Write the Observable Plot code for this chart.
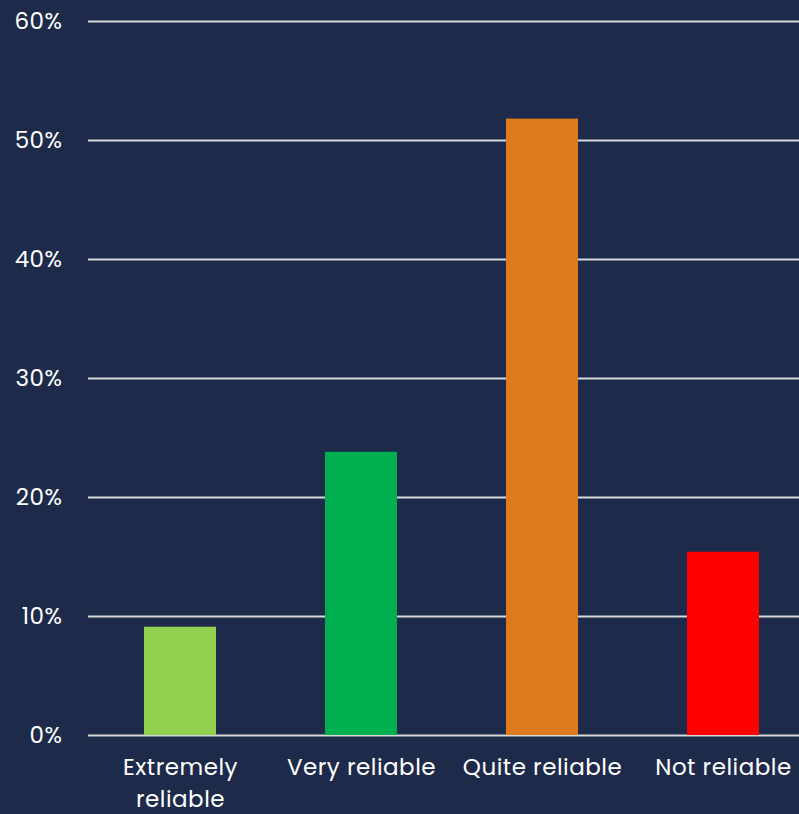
<!DOCTYPE html>
<html>
<head>
<meta charset="utf-8">
<script src="https://cdn.jsdelivr.net/npm/d3@7"></script>
<script src="https://cdn.jsdelivr.net/npm/@observablehq/plot@0.6"></script>
<style>
  html, body { margin: 0; padding: 0; background: #1d2a4a; }
  #chart svg { display: block; }
  #chart svg text { letter-spacing: 0.5px; }
</style>
</head>
<body>
<div id="chart"></div>
<script>
const categories = ["Extremely\nreliable", "Very reliable", "Quite reliable", "Not reliable"];
const values = [0.091, 0.238, 0.518, 0.154];
const colors = ["#92d050", "#00b050", "#dd7a1e", "#ff0000"];
const yTicks = [0, 0.1, 0.2, 0.3, 0.4, 0.5, 0.6];

const data = categories.map((c, i) => ({category: c, value: values[i], color: colors[i]}));

const chart = Plot.plot({
  width: 799,
  height: 814,
  marginTop: 21,
  marginBottom: 79,
  marginLeft: 88,
  marginRight: 0,
  style: {background: "#1d2a4a", color: "#ffffff", fontFamily: "Poppins, 'Open Sans', sans-serif", fontSize: "23px"},
  x: {domain: categories, range: [88, 815], paddingInner: 0.6, paddingOuter: 0.3, label: null},
  y: {domain: [0, 0.6], ticks: yTicks, label: null},
  marks: [
    Plot.gridY(yTicks, {stroke: "#d9d9d9", strokeOpacity: 1, strokeWidth: 2}),
    Plot.barY(data, {x: "category", y: "value", fill: "color"}),
    Plot.axisY(yTicks, {tickSize: 0, tickPadding: 26, tickFormat: d => Math.round(d * 100) + "%", fill: "#ffffff", fontSize: 23, label: null}),
    Plot.axisX({tickSize: 0, tickPadding: 16, fill: "#ffffff", fontSize: 23, lineHeight: 1.42, lineWidth: 20, label: null, textAnchor: "middle"})
  ]
});
document.getElementById("chart").appendChild(chart);
</script>
</body>
</html>
